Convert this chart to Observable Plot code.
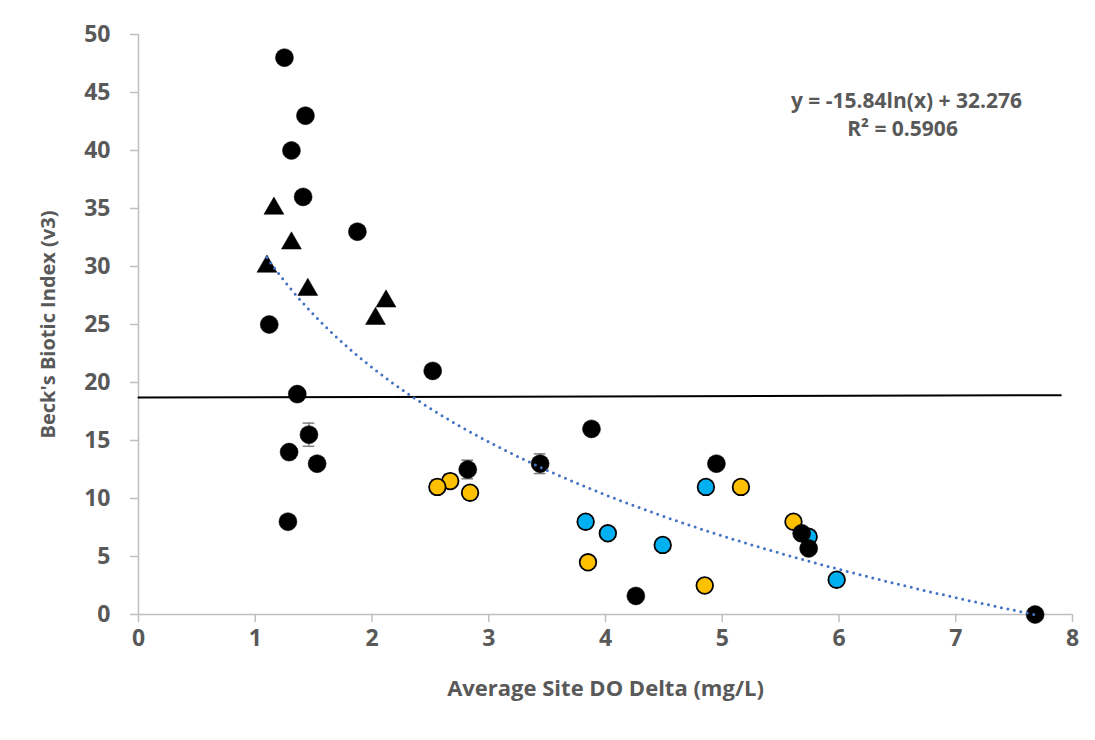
<!DOCTYPE html>
<html>
<head>
<meta charset="utf-8">
<script src="https://cdn.jsdelivr.net/npm/d3@7"></script>
<script src="https://cdn.jsdelivr.net/npm/@observablehq/plot@0.6"></script>
<style>
  html, body { margin: 0; padding: 0; background: #fff; overflow: hidden; }
  #wrap { position: relative; width: 1095px; height: 740px; }
  #frame { position: absolute; left: 7px; top: 3px; width: 1100px; height: 760px;
           border-top: 2px solid #d9d9d9; border-left: 2px solid #d9d9d9; box-sizing: border-box; }
  #chart { position: absolute; left: 0; top: 0; }
  svg { font-family: "Open Sans", sans-serif; }
</style>
</head>
<body>
<div id="wrap"><div id="frame"></div><div id="chart"></div></div>
<script>
// ---- data ----
const blackX = [1.25, 1.43, 1.31, 1.41, 1.875, 1.12, 2.52, 1.36, 1.46, 1.29, 1.53, 1.28, 2.82, 3.44, 3.88, 4.95, 4.26, 5.68, 5.74, 7.68];
const blackY = [48, 43, 40, 36, 33, 25, 21, 19, 15.5, 14, 13, 8, 12.5, 13, 16, 13, 1.6, 7, 5.7, 0];

const triX = [1.16, 1.31, 1.10, 1.45, 2.12, 2.03];
const triY = [35, 32, 30, 28, 27, 25.5];

const yellowX = [2.67, 2.56, 2.84, 3.85, 4.85, 5.16, 5.61];
const yellowY = [11.5, 11, 10.5, 4.5, 2.5, 11, 8];

const blueX = [3.83, 4.02, 4.49, 4.86, 5.74, 5.98];
const blueY = [8, 7, 6, 11, 6.7, 3];

// error bars (x, y, +/- error)
const errX = [1.46, 2.82, 3.44, 2.56, 2.67, 5.16];
const errY = [15.5, 12.5, 13, 11, 11.5, 11];
const errE = [1.0, 0.8, 0.85, 0.6, 0.6, 0.3];

// reference line
const refX = [0, 7.9];
const refY = [18.7, 18.9];

// logarithmic trendline: y = a*ln(x) + b
const trendA = -15.84;
const trendB = 32.276;
const trendRange = [1.1, 7.68];
const eqLines = ["y = -15.84ln(x) + 32.276", "R\u00B2 = 0.5906"];

const xTicks = [0, 1, 2, 3, 4, 5, 6, 7, 8];
const yTicks = [0, 5, 10, 15, 20, 25, 30, 35, 40, 45, 50];
const xTitle = "Average Site DO Delta (mg/L)";
const yTitle = "Beck's Biotic Index (v3)";

// ---- tables ----
const zip = (xs, ys) => xs.map((x, i) => ({x, y: ys[i]}));
const black = zip(blackX, blackY);
const tri = zip(triX, triY);
const yellow = zip(yellowX, yellowY);
const blue = zip(blueX, blueY);
const errs = errX.map((x, i) => ({x, y: errY[i], e: errE[i]}));
const refLine = zip(refX, refY);
const trend = d3.range(0, 201).map(i => {
  const x = trendRange[0] + (trendRange[1] - trendRange[0]) * i / 200;
  return {x, y: trendA * Math.log(x) + trendB};
});

const textColor = "#595959";
const axisColor = "#bfbfbf";
const capHalf = 0.05;

const chart = Plot.plot({
  width: 1095,
  height: 740,
  marginLeft: 138,
  marginRight: 23,
  marginTop: 34,
  marginBottom: 126,
  style: {fontFamily: "'Open Sans', sans-serif", background: "white"},
  x: {domain: [0, 8]},
  y: {domain: [0, 50]},
  marks: [
    Plot.ruleX([0], {stroke: axisColor, strokeWidth: 1.5}),
    Plot.ruleY([0], {stroke: axisColor, strokeWidth: 1.5}),
    Plot.axisY({ticks: yTicks, tickSize: 8, tickPadding: 20, stroke: axisColor, fill: textColor,
                fontSize: 23, fontWeight: "bold", label: null, strokeWidth: 1.5}),
    Plot.axisX({ticks: xTicks, tickSize: 8, tickPadding: 7, stroke: axisColor, fill: textColor,
                fontSize: 23, fontWeight: "bold", label: null, strokeWidth: 1.5}),
    Plot.line(refLine, {x: "x", y: "y", stroke: "black", strokeWidth: 2}),
    Plot.ruleX(errs, {x: "x", y1: d => d.y - d.e, y2: d => d.y + d.e, stroke: "#7f7f7f", strokeWidth: 1.5}),
    Plot.ruleY(errs, {y: d => d.y - d.e, x1: d => d.x - capHalf, x2: d => d.x + capHalf, stroke: "#7f7f7f", strokeWidth: 1.5}),
    Plot.ruleY(errs, {y: d => d.y + d.e, x1: d => d.x - capHalf, x2: d => d.x + capHalf, stroke: "#7f7f7f", strokeWidth: 1.5}),
    Plot.dot(tri, {x: "x", y: "y", symbol: "triangle", r: 7.4, fill: "black", stroke: "black", strokeWidth: 0.5}),
    Plot.dot(yellow, {x: "x", y: "y", r: 8.3, fill: "#FFC000", stroke: "black", strokeWidth: 1.8}),
    Plot.dot(blue, {x: "x", y: "y", r: 8.3, fill: "#00B0F0", stroke: "black", strokeWidth: 1.8}),
    Plot.dot(black, {x: "x", y: "y", r: 9, fill: "black", stroke: "black", strokeWidth: 0.5}),
    Plot.line(trend, {x: "x", y: "y", stroke: "#4472C4", strokeWidth: 3, strokeDasharray: "0 6.6", strokeLinecap: "round"}),
    Plot.text([eqLines[0]], {frameAnchor: "top-right", dx: -166, dy: 59, textAnchor: "middle",
               fill: textColor, fontSize: 21, fontWeight: "bold"}),
    Plot.text([eqLines[1]], {frameAnchor: "top-right", dx: -170, dy: 87, textAnchor: "middle",
               fill: textColor, fontSize: 21, fontWeight: "bold"}),
    Plot.text([xTitle], {frameAnchor: "bottom", dy: 81, textAnchor: "middle", fill: textColor, fontSize: 22, fontWeight: "bold"}),
    Plot.text([yTitle], {frameAnchor: "left", dx: -90, rotate: -90, textAnchor: "middle", lineAnchor: "middle",
               fill: textColor, fontSize: 20, fontWeight: "bold"})
  ]
});
document.getElementById("chart").appendChild(chart);
</script>
</body>
</html>
